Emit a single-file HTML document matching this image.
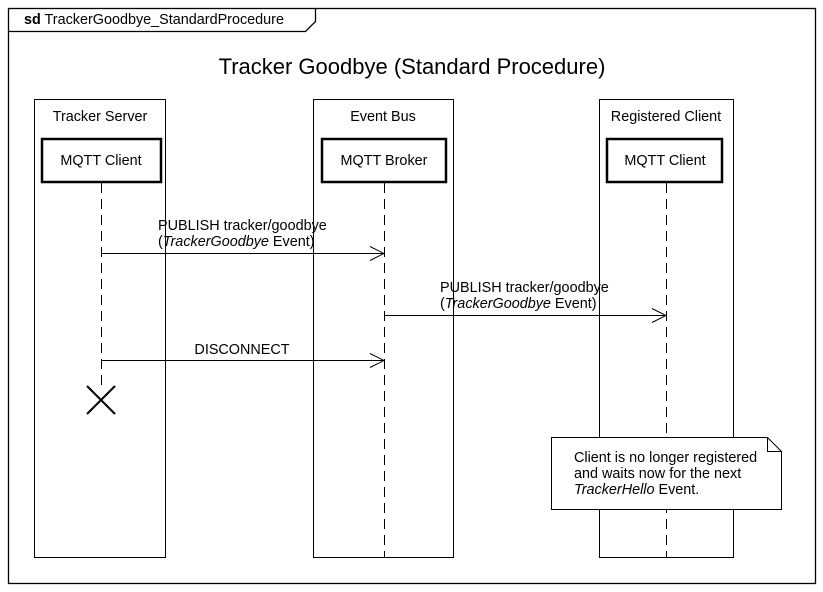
<!DOCTYPE html>
<html><head><meta charset="utf-8"><style>
html,body{margin:0;padding:0;background:#fff;}
svg{display:block;}
text{font-family:"Liberation Sans",Arial,sans-serif;fill:#000;}
</style></head><body>
<svg width="823" height="592" viewBox="0 0 823 592" xmlns="http://www.w3.org/2000/svg">
<rect x="0" y="0" width="823" height="592" fill="#fff"/>
<g fill="none" stroke="#000">
<rect x="8.5" y="8.5" width="807" height="575" stroke-width="1.3"/>
<polyline points="8.5,31.5 305.5,31.5 315.5,21.5 315.5,8.5" stroke-width="1.3"/>
<rect x="34.5" y="99.5" width="131" height="458"/>
<rect x="313.5" y="99.5" width="140" height="458"/>
<rect x="599.5" y="99.5" width="134" height="458"/>
<rect x="42" y="139" width="119" height="43" stroke-width="2.5"/>
<rect x="322" y="139" width="124" height="43" stroke-width="2.5"/>
<rect x="607" y="139" width="115" height="43" stroke-width="2.5"/>
<line x1="101.5" y1="183" x2="101.5" y2="386" stroke-dasharray="10,6"/>
<line x1="384.5" y1="183" x2="384.5" y2="557" stroke-dasharray="10,6"/>
<line x1="666.5" y1="183" x2="666.5" y2="557" stroke-dasharray="10,6"/>
<line x1="101" y1="253.5" x2="384" y2="253.5"/>
<polyline points="370,246.5 384,253.5 370,260.5"/>
<line x1="384" y1="315.5" x2="666" y2="315.5"/>
<polyline points="652,308.5 666,315.5 652,322.5"/>
<line x1="101" y1="360.5" x2="384" y2="360.5"/>
<polyline points="370,353.5 384,360.5 370,367.5"/>
<line x1="87" y1="386" x2="115" y2="414" stroke-width="2"/>
<line x1="115" y1="386" x2="87" y2="414" stroke-width="2"/>
<polygon points="551.5,437.5 767.5,437.5 781.5,451.5 781.5,509.5 551.5,509.5" fill="#fff"/>
<polyline points="767.5,437.5 767.5,451.5 781.5,451.5"/>
</g>
<text x="24" y="24" font-size="14.4"><tspan font-weight="bold">sd</tspan> TrackerGoodbye_StandardProcedure</text>
<text x="412" y="74" font-size="22" text-anchor="middle">Tracker Goodbye (Standard Procedure)</text>
<text x="100" y="121" font-size="14.4" text-anchor="middle">Tracker Server</text>
<text x="383" y="121" font-size="14.4" text-anchor="middle">Event Bus</text>
<text x="666" y="121" font-size="14.4" text-anchor="middle">Registered Client</text>
<text x="101" y="165" font-size="14.4" text-anchor="middle">MQTT Client</text>
<text x="384" y="165" font-size="14.4" text-anchor="middle">MQTT Broker</text>
<text x="665" y="165" font-size="14.4" text-anchor="middle">MQTT Client</text>
<text x="158" y="230" font-size="14.4">PUBLISH tracker/goodbye</text>
<text x="158" y="246" font-size="14.4">(<tspan font-style="italic">TrackerGoodbye</tspan> Event)</text>
<text x="440" y="292" font-size="14.4">PUBLISH tracker/goodbye</text>
<text x="440" y="308" font-size="14.4">(<tspan font-style="italic">TrackerGoodbye</tspan> Event)</text>
<text x="242" y="354" font-size="14.4" text-anchor="middle">DISCONNECT</text>
<text x="574" y="462" font-size="14.4">Client is no longer registered</text>
<text x="574" y="478" font-size="14.4">and waits now for the next</text>
<text x="574" y="494" font-size="14.4"><tspan font-style="italic">TrackerHello</tspan> Event.</text>
</svg>
</body></html>
